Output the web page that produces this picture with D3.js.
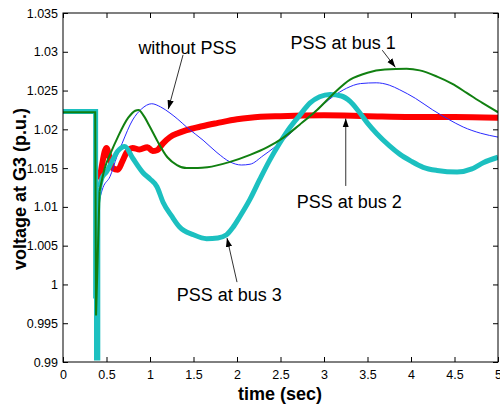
<!DOCTYPE html>
<html><head><meta charset="utf-8">
<script src="https://cdn.jsdelivr.net/npm/d3@7"></script>
<style>body{margin:0;background:#fff}svg{display:block}</style>
</head><body>
<svg id="c" width="500" height="410"></svg>
<script>
// ---- data ----
const xTicks = [0,0.5,1,1.5,2,2.5,3,3.5,4,4.5,5];
const xTickLabels = ["0","0.5","1","1.5","2","2.5","3","3.5","4","4.5","5"];
const yTicks = [0.99,0.995,1,1.005,1.01,1.015,1.02,1.025,1.03,1.035];
const yTickLabels = ["0.99","0.995","1","1.005","1.01","1.015","1.02","1.025","1.03","1.035"];

const noPSS = [[0,1.0222],[0.37,1.0222],[0.38,0.996],[0.40,1.004],[0.42,1.011],[0.46,1.0125],[0.54,1.0139],[0.62,1.0165],[0.68,1.0182],[0.8,1.0212],[0.9,1.0226],[1.02,1.0233],[1.12,1.0229],[1.23,1.0221],[1.32,1.0213],[1.42,1.0203],[1.52,1.0194],[1.61,1.0186],[1.77,1.017],[1.92,1.0158],[2.05,1.0154],[2.15,1.0155],[2.3,1.0166],[2.53,1.0186],[2.72,1.0206],[2.92,1.0225],[3.1,1.0242],[3.26,1.0253],[3.42,1.0259],[3.6,1.026],[3.75,1.0257],[3.87,1.0251],[4.05,1.0240],[4.25,1.0225],[4.43,1.0213],[4.6,1.0203],[4.8,1.0195],[5.0,1.019]];
const bus1 = [[0,1.0222],[0.37,1.0222],[0.38,0.996],[0.40,1.004],[0.42,1.012],[0.48,1.015],[0.55,1.0170],[0.63,1.019],[0.75,1.0215],[0.83,1.0224],[0.87,1.0225],[0.93,1.0217],[1.0,1.0203],[1.08,1.0186],[1.2,1.0164],[1.31,1.0154],[1.42,1.015],[1.55,1.015],[1.66,1.0151],[1.92,1.0158],[2.15,1.0167],[2.35,1.0177],[2.53,1.0189],[2.72,1.0206],[2.92,1.0225],[3.1,1.0245],[3.3,1.0264],[3.5,1.0273],[3.7,1.0277],[3.95,1.0278],[4.1,1.0276],[4.3,1.0268],[4.47,1.0259],[4.64,1.0247],[4.82,1.0234],[5.0,1.0222]];
const bus2 = [[0,1.0221],[0.37,1.0221],[0.37,1.0115],[0.38,0.9905],[0.395,0.9905],[0.395,0.9945],[0.405,0.9945],[0.405,1.0025],[0.42,1.0135],[0.45,1.0155],[0.48,1.0172],[0.5,1.0176],[0.53,1.0166],[0.57,1.0150],[0.63,1.0148],[0.68,1.0158],[0.73,1.0170],[0.8,1.0176],[0.88,1.0174],[0.97,1.0177],[1.03,1.0172],[1.08,1.0173],[1.15,1.0182],[1.23,1.019],[1.32,1.0195],[1.42,1.0199],[1.6,1.0204],[1.77,1.0208],[2.0,1.0213],[2.15,1.0215],[2.5,1.0217],[3.0,1.0218],[3.5,1.0217],[4.0,1.0216],[4.5,1.0216],[5.0,1.0215]];
const bus3 = [[0,1.0223],[0.375,1.0223],[0.375,0.9985],[0.385,0.9985],[0.385,0.9905],[0.40,0.9905],[0.40,1.0105],[0.42,1.0125],[0.45,1.0138],[0.5,1.0145],[0.56,1.0158],[0.63,1.0172],[0.71,1.0178],[0.8,1.0163],[0.92,1.0144],[1.0,1.0136],[1.08,1.0126],[1.15,1.0106],[1.25,1.0088],[1.34,1.0074],[1.5,1.0064],[1.65,1.0059],[1.78,1.0060],[1.88,1.0064],[1.95,1.0073],[2.03,1.0087],[2.15,1.0110],[2.26,1.0135],[2.37,1.0159],[2.49,1.0182],[2.6,1.0201],[2.72,1.0218],[2.84,1.0234],[2.95,1.0242],[3.07,1.0245],[3.2,1.0243],[3.3,1.0236],[3.4,1.0223],[3.5,1.0208],[3.61,1.0194],[3.75,1.0179],[3.87,1.0168],[4.0,1.0159],[4.14,1.0151],[4.3,1.0147],[4.53,1.0145],[4.7,1.0149],[4.83,1.0157],[5.0,1.0164]];

const SPLIT = 0.42; // before: fault transient (straight segments), after: smooth swing
const series = [
  {data: bus2, color:"#ff0000", wFault:1.5, w:6},
  {data: noPSS, color:"#2929ff", wFault:1, w:1},
  {data: bus3, color:"#1cc0c0", wFault:5, w:5},
  {data: bus1, color:"#118011", wFault:2, w:2}
];

const labels = [
  {text:"without PSS", tx:1.43, ty:1.0305, from:[1.38,1.0296], to:[1.21,1.0226]},
  {text:"PSS at bus 1", tx:3.22, ty:1.0311, from:[3.67,1.0302], to:[3.82,1.0280]},
  {text:"PSS at bus 2", tx:3.29, ty:1.0106, from:[3.25,1.0127], to:[3.25,1.0214]},
  {text:"PSS at bus 3", tx:1.91, ty:0.9987, from:[2.0,1.0003], to:[1.885,1.0060]}
];

// ---- drawing ----
const svg = d3.select("#c");
const L=63, R=498, T=13, B=362;
const x = d3.scaleLinear().domain([0,5]).range([L,R]);
const y = d3.scaleLinear().domain([0.99,1.035]).range([B,T]);
const defs = svg.append("defs");
defs.append("clipPath").attr("id","clip")
  .append("rect").attr("x",L).attr("y",T).attr("width",R-L).attr("height",B-T);

const lineLin = d3.line().x(d=>x(d[0])).y(d=>y(d[1])).curve(d3.curveLinear);
const lineSm = d3.line().x(d=>x(d[0])).y(d=>y(d[1])).curve(d3.curveMonotoneX);
const gl = svg.append("g").attr("clip-path","url(#clip)");
series.forEach(s=>{
  const g = gl.append("g");
  g.append("path").datum(s.data.filter(d=>d[0]<=SPLIT)).attr("d",lineLin).attr("fill","none")
    .attr("stroke",s.color).attr("stroke-width",s.wFault).attr("stroke-linejoin","miter");
  g.append("path").datum(s.data.filter(d=>d[0]>=SPLIT)).attr("d",lineSm).attr("fill","none")
    .attr("stroke",s.color).attr("stroke-width",s.w).attr("stroke-linejoin","round");
});

const font = "Liberation Sans, Arial, sans-serif";
const ax = (g)=>{g.selectAll("path,line").attr("stroke","#000");
  g.selectAll("text").attr("font-family",font).attr("font-size","12.5px").attr("fill","#000");};

svg.append("g").attr("transform",`translate(0,${B})`)
  .call(d3.axisBottom(x).tickValues(xTicks).tickFormat((d,i)=>xTickLabels[i]).tickSizeInner(-5).tickSizeOuter(0).tickPadding(8)).call(ax);
svg.append("g").attr("transform",`translate(0,${T})`)
  .call(d3.axisTop(x).tickValues(xTicks).tickFormat("").tickSizeInner(-5).tickSizeOuter(0)).call(ax);
svg.append("g").attr("transform",`translate(${L},0)`)
  .call(d3.axisLeft(y).tickValues(yTicks).tickFormat((d,i)=>yTickLabels[i]).tickSizeInner(-5).tickSizeOuter(0).tickPadding(5)).call(ax);
svg.append("g").attr("transform",`translate(${R},0)`)
  .call(d3.axisRight(y).tickValues(yTicks).tickFormat("").tickSizeInner(-5).tickSizeOuter(0)).call(ax);
svg.selectAll(".domain").remove();
svg.append("rect").attr("x",L).attr("y",T).attr("width",R-L).attr("height",B-T)
  .attr("fill","none").attr("stroke","#000").attr("stroke-width",1);

// arrows
defs.append("marker").attr("id","ah").attr("viewBox","0 0 10 10")
  .attr("refX",10).attr("refY",5).attr("markerWidth",9).attr("markerHeight",9)
  .attr("markerUnits","userSpaceOnUse").attr("orient","auto")
  .append("path").attr("d","M0,1.5L10,5L0,8.5Z").attr("fill","#000");

labels.forEach(a=>{
  svg.append("line").attr("x1",x(a.from[0])).attr("y1",y(a.from[1]))
    .attr("x2",x(a.to[0])).attr("y2",y(a.to[1]))
    .attr("stroke","#333").attr("stroke-width",1).attr("marker-end","url(#ah)");
  svg.append("text").attr("x",x(a.tx)).attr("y",y(a.ty)).attr("text-anchor","middle")
    .attr("dominant-baseline","central").attr("font-family",font).attr("font-size","18px")
    .attr("fill","#000").text(a.text);
});

svg.append("text").attr("x",280).attr("y",400).attr("text-anchor","middle")
  .attr("font-family",font).attr("font-weight","bold").attr("font-size","18px").text("time (sec)");
svg.append("text").attr("transform","translate(26,189) rotate(-90)").attr("text-anchor","middle")
  .attr("font-family",font).attr("font-weight","bold").attr("font-size","18px").text("voltage at G3 (p.u.)");
</script>
</body></html>
